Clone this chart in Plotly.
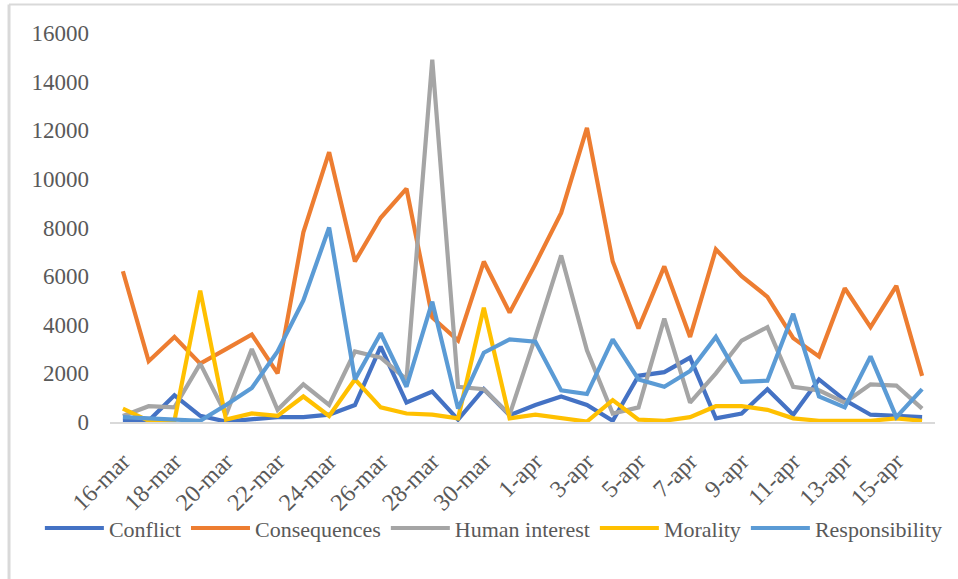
import plotly.graph_objects as go

# Daily counts per news frame, 16 March - 16 April
dates = ["16-mar", "17-mar", "18-mar", "19-mar", "20-mar", "21-mar", "22-mar", "23-mar",
         "24-mar", "25-mar", "26-mar", "27-mar", "28-mar", "29-mar", "30-mar", "31-mar",
         "1-apr", "2-apr", "3-apr", "4-apr", "5-apr", "6-apr", "7-apr", "8-apr",
         "9-apr", "10-apr", "11-apr", "12-apr", "13-apr", "14-apr", "15-apr", "16-apr"]

conflict = [50, 50, 1100, 250, 20, 100, 200, 200, 300, 700, 3100, 800, 1250, 100, 1350, 280,
            700, 1050, 700, 50, 1900, 2050, 2650, 150, 350, 1350, 300, 1750, 900, 300, 250, 200]
consequences = [6200, 2500, 3500, 2400, 3000, 3600, 2000, 7800, 11100, 6600, 8400, 9600, 4300, 3350,
                6600, 4500, 6500, 8600, 12100, 6600, 3850, 6400, 3500, 7100, 6000, 5150, 3450, 2700,
                5500, 3900, 5600, 1900]
human_interest = [250, 650, 600, 2400, 300, 3000, 500, 1550, 700, 2900, 2650, 1750, 14900, 1450,
                  1350, 300, 3500, 6850, 2950, 350, 600, 4250, 800, 2000, 3350, 3900, 1450, 1300,
                  800, 1550, 1500, 550]
morality = [550, 50, 50, 5400, 100, 350, 250, 1050, 250, 1750, 600, 350, 300, 150, 4700, 150,
            300, 150, 20, 900, 100, 50, 200, 650, 650, 500, 150, 50, 50, 50, 150, 50]
responsibility = [200, 150, 100, 50, 700, 1400, 2900, 5000, 8000, 1750, 3650, 1450, 4950, 550,
                  2850, 3400, 3300, 1300, 1150, 3400, 1750, 1450, 2100, 3500, 1650, 1700, 4450,
                  1050, 600, 2700, 200, 1350]

y_ticks = [0, 2000, 4000, 6000, 8000, 10000, 12000, 14000, 16000]
y_tick_labels = [str(v) for v in y_ticks]

series = [
    ("Conflict", conflict, "#4472C4"),
    ("Consequences", consequences, "#ED7D31"),
    ("Human interest", human_interest, "#A5A5A5"),
    ("Morality", morality, "#FFC000"),
    ("Responsibility", responsibility, "#5B9BD5"),
]

x_idx = list(range(len(dates)))
font_family = "Liberation Serif, Times New Roman, serif"
text_color = "#595959"

fig = go.Figure()
for name, values, color in series:
    fig.add_trace(go.Scatter(
        x=x_idx, y=values, name=name, mode="lines",
        line=dict(color=color, width=4.2),
        customdata=dates,
        hovertemplate="%{customdata}: %{y}<extra>" + name + "</extra>",
    ))

fig.update_layout(
    width=958, height=579,
    margin=dict(l=110, r=23, t=33, b=157),
    paper_bgcolor="white", plot_bgcolor="white",
    font=dict(family=font_family, size=23, color=text_color),
    showlegend=True,
    legend=dict(
        orientation="h", x=-0.085, xanchor="left", y=-0.273, yanchor="middle",
        font=dict(family=font_family, size=22, color=text_color),
        itemwidth=59, tracegroupgap=0, bgcolor="rgba(0,0,0,0)",
    ),
    xaxis=dict(
        range=[-0.5, len(dates) - 0.5],
        tickmode="array",
        tickvals=x_idx[::2],
        ticktext=dates[::2],
        tickangle=-45,
        showgrid=False, zeroline=False,
        showline=True, linecolor="#D9D9D9", linewidth=1.5,
        ticks="", ticklabelstandoff=14,
        tickfont=dict(family=font_family, size=24, color=text_color),
    ),
    yaxis=dict(
        range=[0, 16000],
        tickmode="array", tickvals=y_ticks, ticktext=y_tick_labels,
        showgrid=False, zeroline=False, showline=False,
        ticks="", ticklabelstandoff=20,
        tickfont=dict(family=font_family, size=23, color=text_color),
    ),
    shapes=[
        dict(type="line", xref="paper", yref="paper", x0=-0.1224, x1=1.03, y0=1.073, y1=1.073,
             line=dict(color="#D9D9D9", width=2)),
        dict(type="line", xref="paper", yref="paper", x0=-0.1224, x1=-0.1224, y0=1.073, y1=-0.41,
             line=dict(color="#D9D9D9", width=3)),
    ],
)

fig.write_html("out.html")
